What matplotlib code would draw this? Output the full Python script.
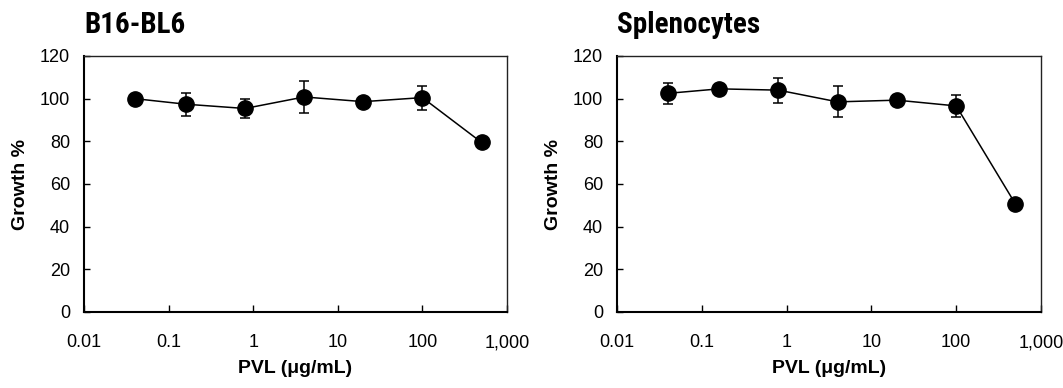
import matplotlib
matplotlib.use("Agg")
import matplotlib.pyplot as plt
from matplotlib import font_manager
from matplotlib.ticker import FixedLocator, FixedFormatter, NullLocator

concentrations = [0.04, 0.16, 0.8, 4, 20, 100, 500]

b16_growth = [100.0, 97.4, 95.4, 100.8, 98.6, 100.5, 79.5]
b16_err = [1.5, 5.3, 4.3, 7.4, 2.0, 5.6, 2.0]

spleno_growth = [102.5, 104.6, 104.0, 98.5, 99.3, 96.6, 50.6]
spleno_err = [5.0, 2.0, 5.8, 7.3, 2.5, 5.3, 2.0]

panel_titles = ["B16-BL6", "Splenocytes"]
x_tick_values = [0.01, 0.1, 1, 10, 100, 1000]
x_tick_labels = ["0.01", "0.1", "1", "10", "100", "1,000"]
y_tick_values = [0, 20, 40, 60, 80, 100, 120]
x_label = "PVL (\u03bcg/mL)"
y_label = "Growth %"

plt.rcParams["font.family"] = ["Liberation Sans", "DejaVu Sans"]

names = {}
for f in font_manager.fontManager.ttflist:
    names.setdefault(f.name, set()).add(f.weight)
title_family = "Liberation Sans"
for cand in ["Roboto Condensed", "PT Sans Narrow", "Archivo Narrow",
             "Sofia Sans Condensed", "Asap Condensed"]:
    if cand in names:
        title_family = cand
        break

W, H = 1063, 388
fig = plt.figure(figsize=(W / 100, H / 100), dpi=100)

boxes = [(84, 507, 56, 312), (617, 1041, 56, 312)]
series = [(b16_growth, b16_err), (spleno_growth, spleno_err)]

for (x0, x1, y0, y1), (vals, errs), title in zip(boxes, series, panel_titles):
    ax = fig.add_axes([x0 / W, 1 - y1 / H, (x1 - x0) / W, (y1 - y0) / H])
    ax.errorbar(concentrations, vals, yerr=errs, color="black", marker="o",
                markersize=11, linewidth=1.1, elinewidth=1.1, capsize=3.5,
                capthick=1.1, markeredgecolor="black", markerfacecolor="black")
    ax.set_xscale("log")
    ax.set_xlim(0.01, 1000)
    ax.set_ylim(0, 120)
    ax.xaxis.set_major_locator(FixedLocator(x_tick_values))
    ax.xaxis.set_major_formatter(FixedFormatter(x_tick_labels))
    ax.xaxis.set_minor_locator(NullLocator())
    ax.set_yticks(y_tick_values)
    ax.tick_params(axis="x", direction="in", length=5, width=1, pad=16, labelsize=13)
    ax.tick_params(axis="y", direction="in", length=4, width=1, pad=10, labelsize=13)
    for side in ["left", "bottom"]:
        ax.spines[side].set_linewidth(1.5)
    for side in ["top", "right"]:
        ax.spines[side].set_linewidth(1.0)
        ax.spines[side].set_color("#222222")
    ax.set_xlabel(x_label, fontsize=14, fontweight="bold", labelpad=6)
    ax.set_ylabel(y_label, fontsize=14, fontweight="bold", labelpad=8)
    fig.text(x0 / W, 1 - 11 / H, title, family=[title_family, "Liberation Sans"],
             fontweight="bold", fontsize=21, va="top", ha="left")

fig.savefig("out.png", dpi=100)
